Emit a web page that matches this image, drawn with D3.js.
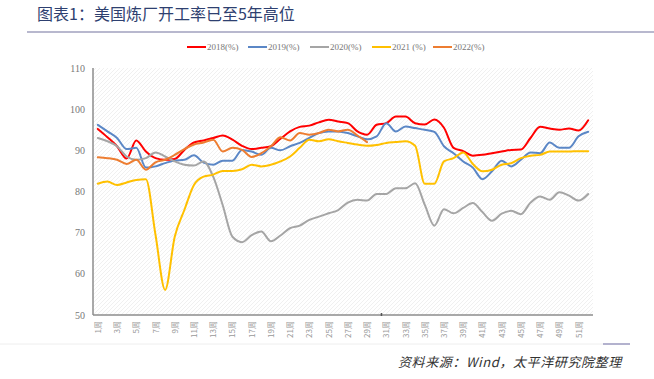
<!DOCTYPE html>
<html><head><meta charset="utf-8">
<script src="https://cdn.jsdelivr.net/npm/d3@7"></script>
<style>
html,body{margin:0;padding:0;background:#fff;}
svg{display:block;}
</style></head>
<body>
<script>
const weeks = d3.range(1, 53);
const weekLabels = weeks.map(w => w + "周");
const yTicks = [50, 60, 70, 80, 90, 100, 110];
const seriesNames = ["2018(%)", "2019(%)", "2020(%)", "2021 (%)", "2022(%)"];
const seriesColors = ["#FF0000", "#5B87C6", "#A5A5A5", "#FFC000", "#ED7D31"];

const v2018 = [95.2,93.2,91.0,88.0,92.4,89.7,88.1,87.7,87.9,90.1,91.9,92.4,93.0,93.6,92.6,91.1,90.3,90.6,91.0,92.8,94.6,95.7,96.0,96.8,97.4,97.0,96.6,94.6,93.8,96.2,96.6,98.2,98.2,96.6,96.3,97.5,95.5,90.6,89.8,88.7,88.9,89.3,89.7,90.1,90.2,93.0,95.7,95.3,95.0,95.3,94.8,97.3];
const v2019 = [96.2,94.6,93.0,90.3,90.6,85.8,86.1,86.9,87.5,87.7,88.8,87.0,86.5,87.5,87.5,90.1,89.7,88.9,90.6,90.0,91.0,91.8,93.0,94.2,94.6,94.6,94.2,93.4,92.7,93.4,96.6,94.6,95.8,95.4,95.0,94.5,91.0,89.3,87.3,85.8,83.0,84.9,87.5,86.1,87.7,89.5,89.3,91.9,90.6,90.6,93.4,94.5];
const v2020 = [93.0,92.2,91.0,88.5,87.7,88.1,89.5,88.5,87.3,86.5,86.3,87.3,83.6,76.6,69.0,67.7,69.4,70.3,67.9,69.3,71.1,71.7,73.1,73.9,74.7,75.5,77.3,78.0,77.8,79.4,79.4,80.8,80.8,82.0,76.8,71.7,75.7,74.7,76.0,77.2,75.0,72.9,74.6,75.3,74.5,77.3,78.8,78.0,79.8,79.0,77.8,79.4];
const v2021 = [81.9,82.4,81.6,82.2,82.8,83.0,69.5,56.1,69.0,75.5,81.6,83.6,84.1,85.0,85.0,85.4,86.5,86.1,86.5,87.3,88.5,90.6,92.6,92.2,92.7,92.2,91.8,91.4,91.1,91.3,91.8,92.0,92.2,91.1,81.9,81.9,87.3,88.1,89.5,86.7,84.9,85.3,86.5,86.9,88.1,88.7,88.9,89.7,89.7,89.7,89.8,89.8];
const v2022 = [88.3,88.1,87.7,86.7,87.7,85.3,87.1,87.7,88.9,90.3,91.4,91.9,92.6,89.7,90.6,90.1,88.4,89.3,91.0,93.2,92.4,94.2,93.8,94.2,95.0,94.6,95.0,93.6,92.0];
const allSeries = [v2018, v2019, v2020, v2021, v2022];

const W = 654, H = 379;
const svg = d3.select("body").append("svg").attr("width", W).attr("height", H);

// title
svg.append("text").attr("x", 37).attr("y", 20)
  .attr("font-family", "'Noto Sans CJK SC', sans-serif").attr("font-size", 16)
  .attr("fill", "#2E4070").text("图表1：美国炼厂开工率已至5年高位");
svg.append("line").attr("x1", 27).attr("x2", 654).attr("y1", 32).attr("y2", 32)
  .attr("stroke", "#B8B8CE").attr("stroke-width", 2);

// plot
const pLeft = 93, pRight = 593, pTop = 68, pBottom = 315;
const x = d3.scalePoint().domain(weeks).range([pLeft, pRight]).padding(0.5);
const y = d3.scaleLinear().domain([50, 110]).range([pBottom, pTop]);

const defs = svg.append("defs");
const pat = defs.append("pattern").attr("id", "hatch").attr("patternUnits", "userSpaceOnUse")
  .attr("width", 4).attr("height", 4);
pat.append("path").attr("d", "M-1,1 l2,-2 M0,4 l4,-4 M3,5 l2,-2")
  .attr("stroke", "#ECECEC").attr("stroke-width", 0.8);
svg.append("rect").attr("x", pLeft).attr("y", pTop).attr("width", pRight - pLeft).attr("height", pBottom - pTop)
  .attr("fill", "url(#hatch)");

// y axis labels
svg.append("g").selectAll("text").data(yTicks).join("text")
  .attr("x", 85).attr("y", d => y(d) + 3.5).attr("text-anchor", "end")
  .attr("font-family", "'Liberation Serif', serif").attr("font-size", 10).attr("fill", "#777")
  .text(d => d);

// axes lines
svg.append("line").attr("x1", pLeft).attr("x2", pLeft).attr("y1", pTop).attr("y2", pBottom)
  .attr("stroke", "#8C8C8C").attr("stroke-width", 1.5);
svg.append("line").attr("x1", pLeft).attr("x2", pRight).attr("y1", pBottom).attr("y2", pBottom)
  .attr("stroke", "#8C8C8C").attr("stroke-width", 1.5);
svg.append("line").attr("x1", (x(30) + x(31)) / 2).attr("x2", (x(30) + x(31)) / 2)
  .attr("y1", pBottom - 2).attr("y2", pBottom + 1).attr("stroke", "#555").attr("stroke-width", 1.5);

// x labels
svg.append("g").selectAll("text").data(weeks.filter(w => w % 2 === 1)).join("text")
  .attr("transform", d => `translate(${x(d) + 3},${321}) rotate(-90)`)
  .attr("text-anchor", "end")
  .attr("font-family", "'Noto Sans CJK SC', sans-serif").attr("font-size", 8).attr("fill", "#999")
  .text(d => weekLabels[d - 1]);

// lines
const line = d3.line().x((d, i) => x(weeks[i])).y(d => y(d)).curve(d3.curveMonotoneX);
svg.append("g").selectAll("path").data(allSeries).join("path")
  .attr("d", d => line(d)).attr("fill", "none")
  .attr("stroke", (d, i) => seriesColors[i]).attr("stroke-width", 2)
  .attr("stroke-linejoin", "round").attr("stroke-linecap", "round");

// legend
const legX = [187, 248, 310, 372, 433];
const leg = svg.append("g").selectAll("g").data(seriesNames).join("g")
  .attr("transform", (d, i) => `translate(${legX[i]},47)`);
leg.append("line").attr("x1", 0).attr("x2", 19).attr("y1", 0).attr("y2", 0)
  .attr("stroke", (d, i) => seriesColors[i]).attr("stroke-width", 2);
leg.append("text").attr("x", 20).attr("y", 3).attr("font-family", "'Liberation Serif', serif")
  .attr("font-size", 9).attr("fill", "#777").text(d => d);

// footer
svg.append("line").attr("x1", 0).attr("x2", 603).attr("y1", 344).attr("y2", 344)
  .attr("stroke", "#EEEEEE").attr("stroke-width", 1);
svg.append("line").attr("x1", 603).attr("x2", 630).attr("y1", 344).attr("y2", 344)
  .attr("stroke", "#9A98BE").attr("stroke-width", 1.5);
svg.append("text").attr("x", 398).attr("y", 367)
  .attr("font-family", "'Noto Sans CJK SC', sans-serif").attr("font-size", 13)
  .attr("font-style", "italic").attr("fill", "#333").attr("letter-spacing", 0.6)
  .text("资料来源：Wind，太平洋研究院整理");
</script>
</body></html>
